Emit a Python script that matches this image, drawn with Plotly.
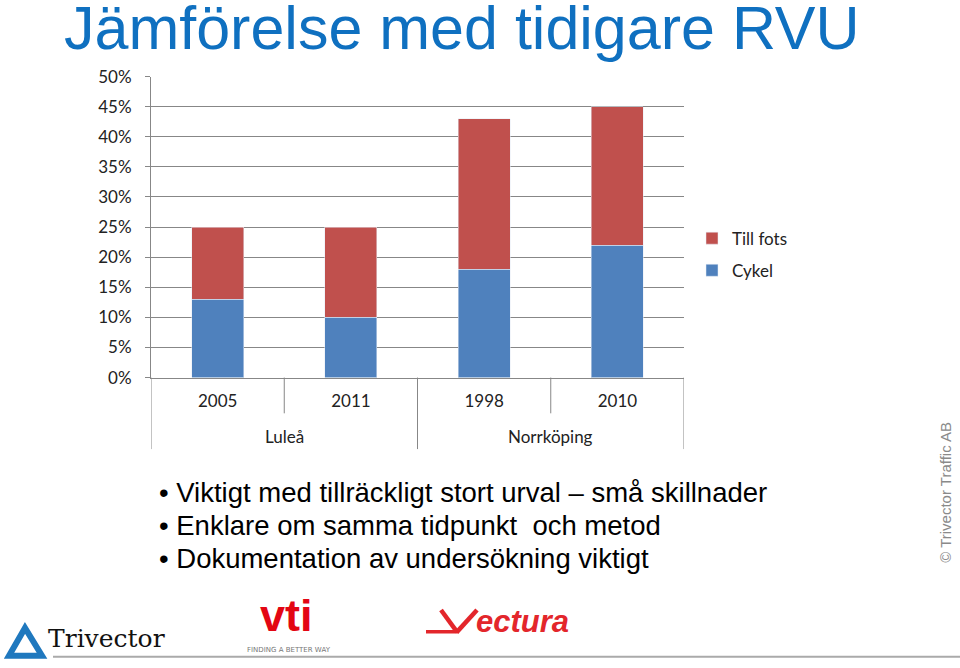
import plotly.graph_objects as go

# ---- data ----
years = ["2005", "2011", "1998", "2010"]
cities = ["Luleå", "Norrköping"]
city_of_year = [0, 0, 1, 1]
cykel = [13, 10, 18, 22]
till_fots = [12, 15, 25, 23]
y_ticks = [0, 5, 10, 15, 20, 25, 30, 35, 40, 45, 50]
y_tick_text = [f"{v}%" for v in y_ticks]

W, H = 960, 668
S, OFF = 0.975, 9.0  # observed vertical mapping of the capture


def px(x):
    return x / W


def py(y):
    yp = (y - OFF) / S
    return 1 - yp / H


BLUE = "#4F81BD"
RED = "#C0504D"
GRID = "#878787"
TXT = "#222222"
xs = list(range(len(years)))
n = len(years)

fig = go.Figure()
fig.add_trace(go.Bar(x=xs, y=cykel, name="Cykel", marker_color=BLUE,
                     width=0.39, legendgroup="c", legendrank=2))
fig.add_trace(go.Bar(x=xs, y=till_fots, name="Till fots", marker_color=RED,
                     width=0.39, legendgroup="t", legendrank=1))

shapes = []
# dividers under the category axis
for i in range(n + 1):
    xb = i - 0.5
    if i == 0 or i == n or city_of_year[i - 1] != city_of_year[i]:
        y_end = py(450)
    else:
        y_end = py(414)
    shapes.append(dict(type="line", xref="x", yref="paper", x0=xb, x1=xb,
                       y0=py(378), y1=y_end, line=dict(color=GRID, width=1)))

annotations = []
# group labels
for ci, c in enumerate(cities):
    idx = [i for i in range(n) if city_of_year[i] == ci]
    annotations.append(dict(xref="x", yref="paper", x=sum(idx) / len(idx),
                            y=py(437), text=c, showarrow=False,
                            font=dict(family="Lato", size=17, color=TXT),
                            xanchor="center", yanchor="middle"))

# slide title
annotations.append(dict(xref="paper", yref="paper", x=px(62), y=py(26),
                        text="Jämförelse med tidigare RVU", showarrow=False,
                        xanchor="left", yanchor="middle",
                        font=dict(family="Liberation Sans", size=61, color="#0F70C0")))
# bullets
bullets = ["Viktigt med tillräckligt stort urval – små skillnader",
           "Enklare om samma tidpunkt  och metod",
           "Dokumentation av undersökning viktigt"]
for k, b in enumerate(bullets):
    annotations.append(dict(xref="paper", yref="paper", x=px(157), y=py(494 + 33 * k),
                            text="• " + b, showarrow=False, xanchor="left",
                            yanchor="middle", align="left",
                            font=dict(family="Liberation Sans", size=27.5, color="#000000")))
# copyright
annotations.append(dict(xref="paper", yref="paper", x=px(946), y=py(494),
                        text="© Trivector Traffic AB", showarrow=False, textangle=-90,
                        xanchor="center", yanchor="middle",
                        font=dict(family="Liberation Sans", size=15, color="#8a8a8a")))
# logos (text approximations)
annotations.append(dict(xref="paper", yref="paper", x=px(46), y=py(641),
                        text="Trivector", showarrow=False, xanchor="left", yanchor="middle",
                        font=dict(family="DejaVu Serif", size=25, color="#111111")))
annotations.append(dict(xref="paper", yref="paper", x=px(286), y=py(645),
                        text="<b>vti</b>", showarrow=False, xanchor="center", yanchor="bottom",
                        font=dict(family="Liberation Sans", size=45, color="#E30613")))
annotations.append(dict(xref="paper", yref="paper", x=px(289), y=py(652),
                        text="FINDING A BETTER WAY", showarrow=False, xanchor="center",
                        yanchor="middle",
                        font=dict(family="DejaVu Sans", size=7, color="#777777")))
annotations.append(dict(xref="paper", yref="paper", x=px(474), y=py(624),
                        text="<b><i>ectura</i></b>", showarrow=False, xanchor="left",
                        yanchor="middle",
                        font=dict(family="Liberation Sans", size=31, color="#E3262B")))

# Vectura "V" with underline
VR = "#E3262B"
shapes.append(dict(type="line", xref="paper", yref="paper", x0=px(426), x1=px(459),
                   y0=py(634), y1=py(634), line=dict(color=VR, width=3.5)))
shapes.append(dict(type="line", xref="paper", yref="paper", x0=px(441), x1=px(457),
                   y0=py(612), y1=py(634), line=dict(color=VR, width=4.5)))
shapes.append(dict(type="line", xref="paper", yref="paper", x0=px(457), x1=px(477),
                   y0=py(634), y1=py(612), line=dict(color=VR, width=4.5)))
# Trivector triangle mark
shapes.append(dict(type="path", xref="paper", yref="paper",
                   path=(f"M {px(9)},{py(658)} L {px(25)},{py(630)} L {px(42)},{py(658)} Z"),
                   line=dict(color="#1F78BE", width=6)))
# footer line
shapes.append(dict(type="line", xref="paper", yref="paper", x0=px(53), x1=1,
                   y0=py(659), y1=py(659), line=dict(color="#AAAAAA", width=2)))

fig.update_layout(
    width=W, height=H, margin=dict(l=0, r=0, t=0, b=0),
    paper_bgcolor="white", plot_bgcolor="white",
    barmode="stack", showlegend=True,
    legend=dict(x=px(692), y=py(220), xanchor="left", yanchor="top",
                tracegroupgap=7,
                font=dict(family="Lato", size=17, color=TXT),
                bgcolor="rgba(0,0,0,0)"),
    xaxis=dict(domain=[px(151), px(684)], range=[-0.5, n - 0.5],
               tickmode="array", tickvals=xs, ticktext=years,
               showgrid=False, zeroline=False, showline=True, linecolor=GRID,
               ticks="", ticklabelstandoff=8,
               tickfont=dict(family="Lato", size=17, color=TXT)),
    yaxis=dict(domain=[py(378), py(75)], range=[0, 50],
               tickmode="array", tickvals=y_ticks, ticktext=y_tick_text,
               showgrid=True, gridcolor=GRID, gridwidth=1,
               zeroline=False, showline=True, linecolor=GRID,
               ticks="outside", ticklen=5, tickcolor=GRID, ticklabelstandoff=10,
               tickfont=dict(family="Lato", size=17, color=TXT)),
    shapes=shapes, annotations=annotations,
)

fig.write_html("out.html")
